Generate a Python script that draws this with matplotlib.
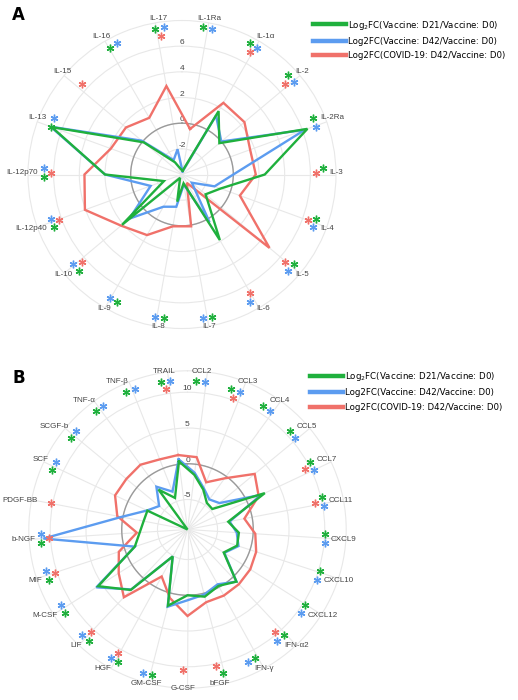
import numpy as np
import matplotlib
matplotlib.use("Agg")
import matplotlib.pyplot as plt
from matplotlib.lines import Line2D

# Panel A: interleukins
A_LABELS = ["IL-1Ra", "IL-1α", "IL-2", "IL-2Ra", "IL-3", "IL-4", "IL-5", "IL-6", "IL-7",
            "IL-8", "IL-9", "IL-10", "IL-12p40", "IL-12p70", "IL-13", "IL-15", "IL-16", "IL-17"]
A_D21 = [-3.7, 1.7, -0.2, 6.4, 2.45, -0.8, -1.6, 1.9, -3.3,
         -1.85, -3.7, 2.1, -2.5, 2.0, 6.8, -0.1, -2.9, -3.6]
A_D42 = [-3.75, 1.3, 0.0, 6.2, 0.0, -1.3, -3.0, 0.3, -3.2,
         -1.45, -1.1, 1.35, -1.4, 2.0, 6.9, 0.1, -2.7, -2.0]
A_COVID = [-0.4, 2.45, 2.35, 1.65, 1.75, 0.8, 4.9, -3.25, 0.1,
           0.1, 1.45, 2.2, 4.05, 3.6, 1.9, 1.7, 1.1, 3.0]
# significance flags (D21, D42, COVID)
A_SIG_D21 = [1, 1, 1, 1, 1, 1, 1, 0, 1, 1, 1, 1, 1, 1, 1, 0, 1, 1]
A_SIG_D42 = [1, 1, 1, 1, 0, 1, 1, 1, 1, 1, 1, 1, 1, 1, 1, 0, 1, 1]
A_SIG_COVID = [0, 1, 1, 0, 1, 1, 1, 1, 0, 0, 0, 1, 1, 1, 0, 1, 0, 1]
A_RTICKS = [-2, 0, 2, 4, 6]

# Panel B: chemokines / growth factors
B_LABELS = ["TRAIL", "CCL2", "CCL3", "CCL4", "CCL5", "CCL7", "CCL11", "CXCL9", "CXCL10",
            "CXCL12", "IFN-α2", "IFN-γ", "bFGF", "G-CSF", "GM-CSF", "HGF", "LIF", "M-CSF",
            "MIF", "b-NGF", "PDGF-BB", "SCF", "SCGF-b", "TNF-α", "TNF-β"]
B_D21 = [0.4, -1.5, -3.2, -4.6, -4.7, 2.75, -3.4, -2.0, -1.9,
         -3.2, 0.8, -0.2, 0.5, 0.0, 1.8, -4.9, 2.4, 5.6,
         -1.45, -2.5, -2.95, -3.0, -9.2, -2.3, -4.45]
B_D42 = [0.7, -1.2, -3.0, -4.0, -3.4, 2.2, -3.2, -2.3, -1.7,
         -3.1, 0.8, -0.45, 0.2, 0.7, 1.95, -4.9, 2.3, 5.9,
         -1.45, 11.0, 0.2, -2.95, -4.05, -1.8, -3.5]
B_COVID = [1.3, 1.0, -2.1, -0.35, 3.0, 1.8, -1.1, 0.3, 0.9,
           1.2, 1.3, 1.35, 1.3, 2.9, 0.7, -1.7, 3.8, 2.2,
           0.9, -2.1, 0.8, 2.0, 1.9, 2.0, 1.35]
B_SIG_D21 = [1, 1, 1, 1, 1, 1, 1, 1, 1, 1, 1, 1, 1, 0, 1, 1, 1, 1, 1, 1, 0, 1, 1, 1, 1]
B_SIG_D42 = [1, 1, 1, 1, 1, 1, 1, 1, 1, 1, 1, 1, 0, 0, 1, 1, 1, 1, 1, 1, 0, 1, 1, 1, 1]
B_SIG_COVID = [1, 0, 1, 0, 0, 1, 1, 0, 0, 0, 1, 0, 1, 1, 0, 1, 1, 0, 1, 1, 1, 0, 0, 0, 0]
B_RTICKS = [-5, 0, 5, 10]

SERIES_NAMES = ["Log$_2$FC(Vaccine: D21/Vaccine: D0)",
                "Log2FC(Vaccine: D42/Vaccine: D0)",
                "Log2FC(COVID-19: D42/Vaccine: D0)"]
COLORS = ["#1fb03d", "#5c9cf0", "#f0716a"]

GRID = "#e8e8e8"
TXT = "#444444"
W, H = 518, 700


def px_rect(cx, cy, rx, ry):
    """Figure-fraction rectangle for an axes centred at pixel (cx, cy)."""
    return [(cx - rx) / W, 1 - (cy + ry) / H, 2 * rx / W, 2 * ry / H]


def category_angles(n, start_deg):
    return (start_deg + 360.0 / n * np.arange(n)) % 360.0


def draw_radar(ax, labels, series, rmin, rmax, rticks, start_deg):
    ang = category_angles(len(labels), start_deg)
    theta = np.deg2rad(ang)

    ax.set_theta_zero_location("N")
    ax.set_theta_direction(-1)
    ax.set_xticks(theta)
    ax.set_xticklabels([])
    ax.set_xlim(0, 2 * np.pi)
    ax.set_yticks(rticks)
    ax.set_yticklabels([])
    ax.set_ylim(rmin, rmax)
    ax.grid(True, color=GRID, lw=0.8)
    ax.spines["polar"].set_color(GRID)
    ax.spines["polar"].set_linewidth(0.8)
    ax.tick_params(length=0)

    # zero ring
    circ = np.linspace(0, 2 * np.pi, 361)
    ax.plot(circ, np.zeros_like(circ), color="#9a9a9a", lw=1.0, zorder=2)

    for v in rticks:
        ax.text(0, v, f"{v:g}", ha="center", va="bottom", fontsize=6,
                family="Liberation Sans", color=TXT, zorder=3)

    # series outlines (green drawn on top)
    for vals, col in reversed(list(zip(series, COLORS))):
        th = np.append(theta, theta[0])
        rv = np.append(vals, vals[0])
        ax.plot(th, rv, color=col, lw=1.7, zorder=4, solid_joinstyle="miter")


def draw_annotations(ax, labels, sigs, start_deg):
    """Asterisks and category names sit on a slightly elliptical ring."""
    ang = category_angles(len(labels), start_deg)
    ax.set_theta_zero_location("N")
    ax.set_theta_direction(-1)
    ax.set_aspect("auto")
    ax.set_ylim(0, 1)
    ax.axis("off")
    ax.patch.set_alpha(0)

    d_ang = [-1.8, 1.8, 0.0]
    r_pos = [1.0, 1.0, 0.945]
    for k, flags in enumerate(sigs):
        idx = np.nonzero(np.array(flags))[0]
        ax.plot(np.deg2rad(ang[idx] + d_ang[k]), np.full(len(idx), r_pos[k]),
                ls="none", marker=(6, 2, 0), ms=5.5, mew=1.0,
                color=COLORS[k], clip_on=False, zorder=5)

    for a, lab in zip(ang, labels):
        s, c = np.sin(np.deg2rad(a)), np.cos(np.deg2rad(a))
        ha = "left" if s > 0.3 else ("right" if s < -0.3 else "center")
        va = "bottom" if c > 0.3 else ("top" if c < -0.3 else "center")
        ax.text(np.deg2rad(a), 1.04, lab, ha=ha, va=va, fontsize=5.8,
                family="Liberation Sans", color=TXT, clip_on=False)


def add_legend(fig, x_px, y_px):
    handles = [Line2D([], [], color=c, lw=3.2) for c in COLORS]
    fig.legend(handles, SERIES_NAMES, loc="upper left",
               bbox_to_anchor=(x_px / W, 1 - y_px / H), frameon=False,
               prop={"family": "DejaVu Sans", "size": 6.2},
               handlelength=3.8, handletextpad=0.3, labelspacing=0.63,
               borderaxespad=0, borderpad=0)


def main():
    fig = plt.figure(figsize=(W / 100, H / 100), dpi=100)

    # Panel A
    ax_a = fig.add_axes(px_rect(182, 174.5, 154, 154), projection="polar")
    draw_radar(ax_a, A_LABELS, [A_D21, A_D42, A_COVID], -4, 8, A_RTICKS, 10.0)
    ann_a = fig.add_axes(px_rect(183.5, 172.8, 140, 147), projection="polar")
    draw_annotations(ann_a, A_LABELS, [A_SIG_D21, A_SIG_D42, A_SIG_COVID], 10.0)

    # Panel B
    ax_b = fig.add_axes(px_rect(187.5, 529.5, 158.7, 158.7), projection="polar")
    draw_radar(ax_b, B_LABELS, [B_D21, B_D42, B_COVID], -9.2, 13, B_RTICKS, -7.2)
    ann_b = fig.add_axes(px_rect(183, 529.3, 142.3, 149.3), projection="polar")
    draw_annotations(ann_b, B_LABELS, [B_SIG_D21, B_SIG_D42, B_SIG_COVID], -7.2)

    add_legend(fig, 313, 18.5)
    add_legend(fig, 310, 370)

    fig.text(12 / W, 1 - 15 / H, "A", fontsize=12, fontweight="bold", va="center")
    fig.text(12 / W, 1 - 378 / H, "B", fontsize=12, fontweight="bold", va="center")

    fig.savefig("out.png", dpi=100)


if __name__ == "__main__":
    main()
